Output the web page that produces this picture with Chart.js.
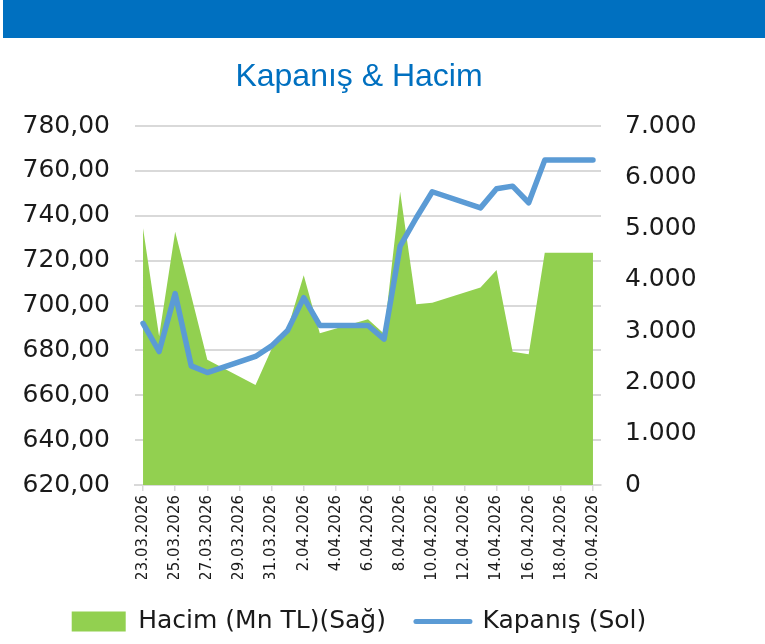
<!DOCTYPE html>
<html>
<head>
<meta charset="utf-8">
<script src="https://cdn.jsdelivr.net/npm/chart.js@4.4.1/dist/chart.umd.min.js"></script>
<style>
html,body{margin:0;padding:0;background:#ffffff;}
#wrap{position:relative;width:765px;height:644px;overflow:hidden;}
#bar{position:absolute;left:3px;top:0;width:762px;height:38px;background:#0070C0;}
canvas{position:absolute;left:0;top:0;}
</style>
</head>
<body>
<div id="wrap">
  <canvas id="c" width="765" height="644"></canvas>
  <div id="bar"></div>
</div>
<script>
// Category labels (daily, weekends have no data)
const dates = [
  "23.03.2026","24.03.2026","25.03.2026","26.03.2026","27.03.2026","28.03.2026","29.03.2026",
  "30.03.2026","31.03.2026","1.04.2026","2.04.2026","3.04.2026","4.04.2026","5.04.2026",
  "6.04.2026","7.04.2026","8.04.2026","9.04.2026","10.04.2026","11.04.2026","12.04.2026",
  "13.04.2026","14.04.2026","15.04.2026","16.04.2026","17.04.2026","18.04.2026","19.04.2026",
  "20.04.2026"
];
// Closing price (left axis)
const closePrices = [
  692.0, 679.5, 705.3, 673.1, 670.1, null, null,
  677.3, 682.0, 688.9, 703.5, 691.1, null, null,
  691.1, 685.0, 726.5, 739.0, 750.7, null, null,
  743.5, 752.0, 753.2, 745.8, 764.8, null, null,
  764.8
];
// Volume, Mn TL (right axis)
const volumes = [
  5005, 2900, 4940, 3690, 2440, null, null,
  1950, 2650, 3050, 4090, 2960, null, null,
  3230, 2950, 5720, 3525, 3555, null, null,
  3850, 4190, 2600, 2550, 4530, null, null,
  4530
];
const leftTicks = { min: 620, max: 780, step: 20 };
const rightTicks = { min: 0, max: 7000, step: 1000 };
const seriesNames = ["Hacim (Mn TL)(Sağ)", "Kapanış (Sol)"];
const titleText = "Kapanış & Hacim";

const GREEN = "#92D050";
const BLUE = "#5B9BD5";
const GRID = "#D9D9D9";
const TXT = "#1a1a1a";
const TICKFONT = "DejaVu Sans";

const fmtLeft = v => Number(v).toFixed(2).replace(".", ",");
const fmtRight = v => Number(v).toLocaleString("de-DE");

new Chart(document.getElementById("c"), {
  type: "line",
  data: {
    labels: dates,
    datasets: [
      {
        label: seriesNames[0],
        data: volumes,
        yAxisID: "y1",
        backgroundColor: GREEN,
        borderColor: "rgba(0,0,0,0)",
        borderWidth: 0,
        fill: "origin",
        pointRadius: 0,
        spanGaps: true,
        tension: 0,
        order: 1
      },
      {
        label: seriesNames[1],
        data: closePrices,
        yAxisID: "y",
        borderColor: BLUE,
        backgroundColor: BLUE,
        borderWidth: 5.5,
        borderJoinStyle: "round",
        borderCapStyle: "round",
        fill: false,
        pointRadius: 0,
        spanGaps: true,
        tension: 0,
        order: 0
      }
    ]
  },
  options: {
    responsive: false,
    animation: false,
    devicePixelRatio: 1,
    layout: { padding: { left: 0, right: 47, top: 0, bottom: 0 } },
    plugins: {
      tooltip: { enabled: false },
      title: {
        display: true,
        text: titleText,
        color: "#0070C0",
        font: { family: "Liberation Sans", size: 32, weight: "normal", lineHeight: 1.2 },
        padding: { top: 58, bottom: 29.6 }
      },
      legend: {
        display: true,
        position: "bottom",
        labels: {
          font: { family: TICKFONT, size: 25 },
          color: TXT,
          usePointStyle: true,
          pointStyleWidth: 54,
          boxHeight: 20,
          padding: 30,
          generateLabels: () => [
            { text: seriesNames[0], fillStyle: GREEN, strokeStyle: GREEN, lineWidth: 0,
              pointStyle: "rect", datasetIndex: 0, fontColor: TXT, hidden: false },
            { text: seriesNames[1], fillStyle: BLUE, strokeStyle: BLUE, lineWidth: 5,
              lineCap: "round", pointStyle: "line", datasetIndex: 1, fontColor: TXT, hidden: false }
          ]
        }
      }
    },
    scales: {
      x: {
        type: "category",
        offset: true,
        grid: {
          display: true,
          drawOnChartArea: false,
          drawTicks: true,
          tickLength: 6,
          lineWidth: 1.5,
          color: ctx => (ctx.index === undefined || ctx.index % 2 === 0) ? GRID : "rgba(0,0,0,0)"
        },
        border: { display: true, color: GRID, width: 2 },
        ticks: {
          autoSkip: false,
          maxRotation: 90,
          minRotation: 90,
          padding: 4,
          color: TXT,
          font: { family: TICKFONT, size: 15 },
          callback: (v, i) => (i % 2 === 0 ? dates[i] : "")
        },
        afterFit: s => { s.height = 94; }
      },
      y: {
        position: "left",
        min: leftTicks.min,
        max: leftTicks.max,
        ticks: {
          stepSize: leftTicks.step,
          padding: 25,
          color: TXT,
          font: { family: TICKFONT, size: 25 },
          callback: v => fmtLeft(v)
        },
        grid: { color: GRID, lineWidth: 2, drawTicks: false },
        border: { display: false },
        afterFit: s => { s.width = 135; }
      },
      y1: {
        position: "right",
        min: rightTicks.min,
        max: rightTicks.max,
        ticks: {
          stepSize: rightTicks.step,
          padding: 24,
          color: TXT,
          font: { family: TICKFONT, size: 25 },
          callback: v => fmtRight(v)
        },
        grid: { drawOnChartArea: false, drawTicks: false },
        border: { display: false },
        afterFit: s => { s.width = 117; }
      }
    }
  }
});
</script>
</body>
</html>
